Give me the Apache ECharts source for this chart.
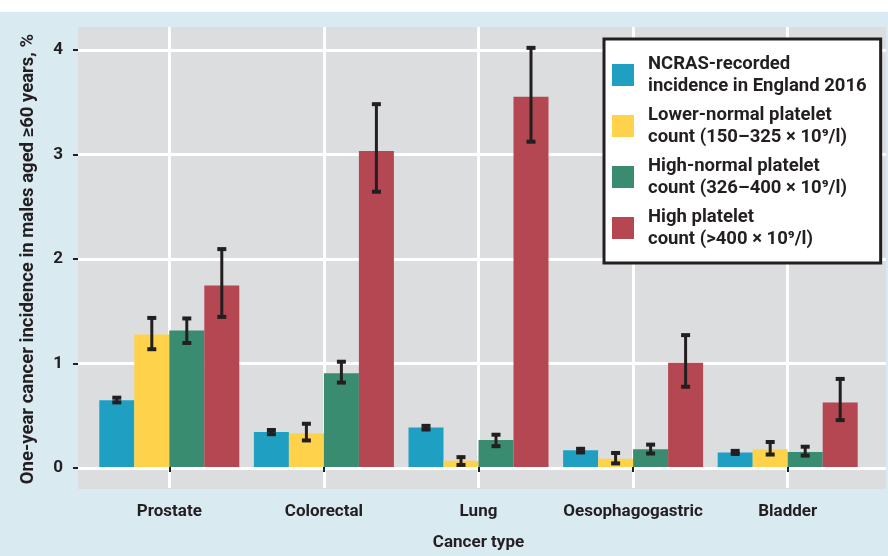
<!DOCTYPE html>
<html>
<head>
<meta charset="utf-8">
<script src="https://cdn.jsdelivr.net/npm/echarts@6/dist/echarts.min.js"></script>
<style>
  html, body { margin: 0; padding: 0; background: #ffffff; }
  #chart { width: 888px; height: 556px; }
</style>
</head>
<body>
<div id="chart"></div>
<script>
// ---- data ----
const categories = ['Prostate', 'Colorectal', 'Lung', 'Oesophagogastric', 'Bladder'];
const seriesNames = [
  'NCRAS-recorded\nincidence in England 2016',
  'Lower-normal platelet\ncount (150–325 × 10⁹/l)',
  'High-normal platelet\ncount (326–400 × 10⁹/l)',
  'High platelet\ncount (>400 × 10⁹/l)'
];
const ncras      = [0.64, 0.335, 0.38, 0.16, 0.14];
const ncrasLow   = [0.62, 0.315, 0.36, 0.14, 0.125];
const ncrasHigh  = [0.665, 0.355, 0.395, 0.175, 0.155];
const lowerNormal     = [1.27, 0.325, 0.06, 0.08, 0.17];
const lowerNormalLow  = [1.13, 0.255, 0.02, 0.035, 0.12];
const lowerNormalHigh = [1.43, 0.415, 0.095, 0.135, 0.24];
const highNormal     = [1.31, 0.90, 0.26, 0.17, 0.145];
const highNormalLow  = [1.19, 0.81, 0.20, 0.13, 0.11];
const highNormalHigh = [1.425, 1.01, 0.31, 0.215, 0.195];
const highPlatelet     = [1.74, 3.03, 3.55, 1.00, 0.62];
const highPlateletLow  = [1.44, 2.64, 3.12, 0.77, 0.45];
const highPlateletHigh = [2.09, 3.48, 4.02, 1.265, 0.845];
const yTicks = [0, 1, 2, 3, 4];

const values = [ncras, lowerNormal, highNormal, highPlatelet];
const lows   = [ncrasLow, lowerNormalLow, highNormalLow, highPlateletLow];
const highs  = [ncrasHigh, lowerNormalHigh, highNormalHigh, highPlateletHigh];
const colors = ['#1fa0c2', '#fed34b', '#3a8c71', '#b44751'];

// ---- style constants ----
const INK = '#231f20';
const FONT = 'Roboto, "Liberation Sans", sans-serif';
const BAR_W = 35;

const chart = echarts.init(document.getElementById('chart'), null, { renderer: 'canvas' });

const barSeries = values.map((v, k) => ({
  name: seriesNames[k],
  type: 'bar',
  xAxisIndex: 0,
  yAxisIndex: 0,
  data: v,
  barWidth: BAR_W,
  barGap: '0%',
  itemStyle: { color: colors[k] },
  z: 2
}));

const errSeries = values.map((v, k) => ({
  type: 'custom',
  xAxisIndex: 0,
  yAxisIndex: 0,
  z: 5,
  silent: true,
  data: categories.map((c, i) => [i, lows[k][i], highs[k][i]]),
  renderItem: function (params, api) {
    const off = (k - 1.5) * BAR_W;
    const lo = api.coord([api.value(0), api.value(1)]);
    const hi = api.coord([api.value(0), api.value(2)]);
    const x = lo[0] + off;
    const capW = 4.5;
    return {
      type: 'group',
      children: [
        { type: 'line', shape: { x1: x, y1: lo[1], x2: x, y2: hi[1] }, style: { stroke: INK, lineWidth: 3 } },
        { type: 'line', shape: { x1: x - capW, y1: lo[1], x2: x + capW, y2: lo[1] }, style: { stroke: INK, lineWidth: 4 } },
        { type: 'line', shape: { x1: x - capW, y1: hi[1], x2: x + capW, y2: hi[1] }, style: { stroke: INK, lineWidth: 4 } }
      ]
    };
  }
}));

const option = {
  backgroundColor: '#ffffff',
  animation: false,
  graphic: {
    elements: [
      { type: 'rect', z: -100, silent: true, shape: { x: 0, y: 12, width: 888, height: 544 }, style: { fill: '#daeaf1' } },
      { type: 'rect', z: -99, silent: true, shape: { x: 78, y: 27, width: 808, height: 462 }, style: { fill: '#dcdddf' } }
    ]
  },
  legend: {
    data: seriesNames,
    orient: 'vertical',
    left: 604,
    top: 39,
    itemWidth: 22,
    itemHeight: 22,
    itemGap: 7,
    icon: 'rect',
    padding: [14, 14, 13, 8],
    backgroundColor: '#ffffff',
    borderColor: INK,
    borderWidth: 3,
    textStyle: {
      fontFamily: FONT,
      fontSize: 18.5,
      fontWeight: 'bold',
      color: INK,
      lineHeight: 22,
      padding: [0, 0, 0, 9]
    }
  },
  grid: [
    { left: 92, right: 23, top: 27, bottom: 67 },
    { left: 78, right: 2, top: 50, bottom: 88 }
  ],
  xAxis: [
    {
      gridIndex: 0,
      type: 'category',
      data: categories,
      axisLine: { show: false },
      axisTick: { show: true, interval: 0, alignWithLabel: true, length: 5, lineStyle: { color: INK, width: 2 } },
      splitLine: { show: true, interval: 0, alignWithLabel: true, lineStyle: { color: '#ffffff', width: 3 } },
      axisLabel: { interval: 0, margin: 15, fontFamily: FONT, fontSize: 17, fontWeight: 'bold', color: INK },
      name: 'Cancer type',
      nameLocation: 'middle',
      nameGap: 46,
      nameTextStyle: { fontFamily: FONT, fontSize: 17, fontWeight: 'bold', color: INK }
    },
    { gridIndex: 1, type: 'value', show: false, min: 0, max: 1 }
  ],
  yAxis: [
    { gridIndex: 0, type: 'value', show: false, min: -0.201, max: 4.22, splitLine: { show: false } },
    {
      gridIndex: 1,
      type: 'value',
      min: 0,
      max: 4,
      interval: 0.5,
      axisLine: { show: false },
      axisTick: { show: true, length: 5, customValues: yTicks, lineStyle: { color: INK, width: 2 } },
      axisLabel: { customValues: yTicks, margin: 15, fontFamily: FONT, fontSize: 17, fontWeight: 'bold', color: INK },
      splitLine: { show: true, lineStyle: { color: '#ffffff', width: 3 } },
      name: 'One-year cancer incidence in males aged ≥60 years, %',
      nameLocation: 'middle',
      nameGap: 40,
      nameTextStyle: { fontFamily: FONT, fontSize: 18.5, fontWeight: 'bold', color: INK }
    }
  ],
  series: barSeries.concat(errSeries)
};

chart.setOption(option);
</script>
</body>
</html>
